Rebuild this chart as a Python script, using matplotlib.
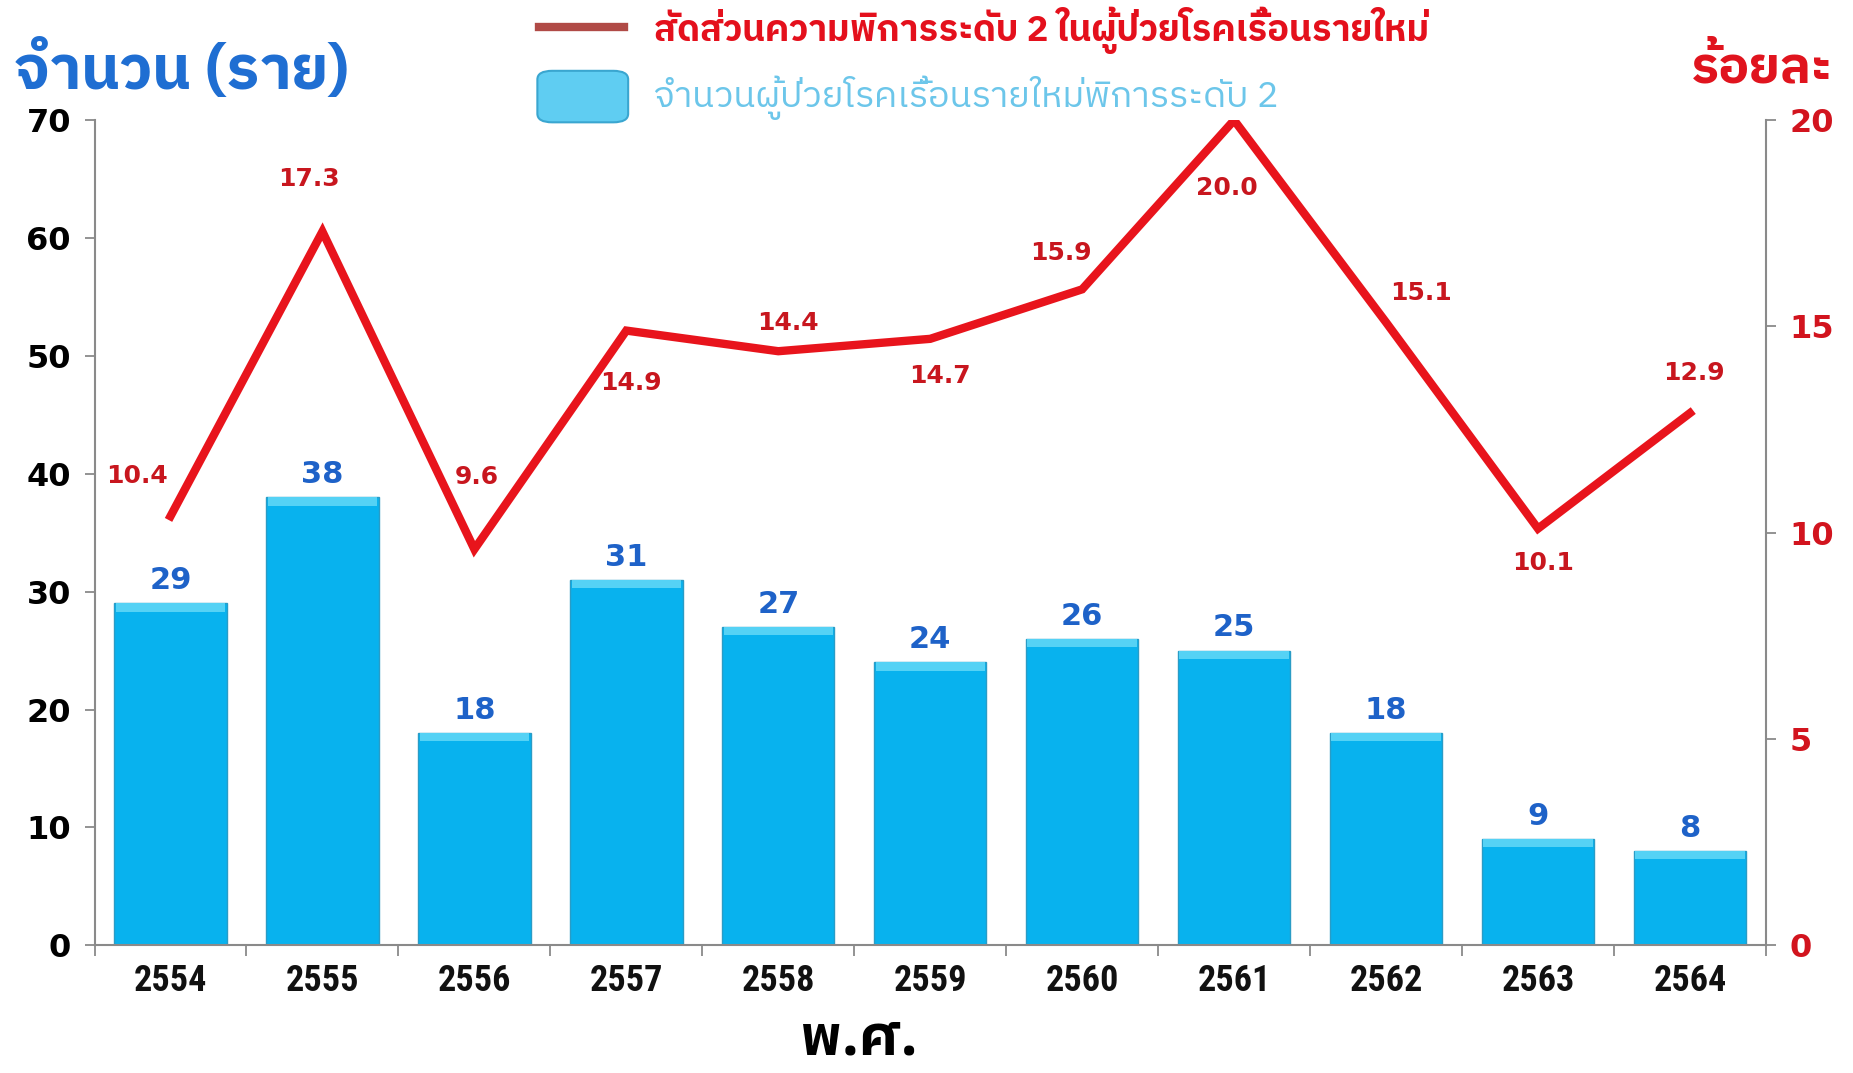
import matplotlib
matplotlib.use('Agg')
import matplotlib.pyplot as plt
from matplotlib import font_manager as fm
from matplotlib.ft2font import FT2Font
from matplotlib.patches import FancyBboxPatch
from matplotlib.lines import Line2D
import numpy as np

# ---------------- data ----------------
years = ['2554', '2555', '2556', '2557', '2558', '2559', '2560', '2561', '2562', '2563', '2564']
counts = [29, 38, 18, 31, 27, 24, 26, 25, 18, 9, 8]
percent = [10.4, 17.3, 9.6, 14.9, 14.4, 14.7, 15.9, 20.0, 15.1, 10.1, 12.9]
left_ticks = [0, 10, 20, 30, 40, 50, 60, 70]
right_ticks = [0, 5, 10, 15, 20]

title_left = 'จำนวน (ราย)'
title_right = 'ร้อยละ'
xlabel = 'พ.ศ.'
legend_line = 'สัดส่วนความพิการระดับ 2 ในผู้ป่วยโรคเรื้อนรายใหม่'
legend_bar = 'จำนวนผู้ป่วยโรคเรื้อนรายใหม่พิการระดับ 2'

# label offsets for percentage labels (points), style only
pct_offsets = [(-24, 29), (-10, 38), (2, 52), (3, -38), (7, 20), (7, -27),
               (-15, 26), (-5, -49), (25, 21), (4, -25), (3, 29)]


# ---------------- fonts ----------------
def find_thai():
    best = None
    for f in fm.fontManager.ttflist:
        try:
            cmap = FT2Font(f.fname).get_charmap()
        except Exception:
            continue
        if 0x0E01 in cmap and 0x0E33 in cmap and 0x0E48 in cmap:
            w = f.weight if isinstance(f.weight, int) else (700 if 'bold' in str(f.weight).lower() else 400)
            score = (1 if 'Thai' in f.name else 0, 1 if w >= 600 else 0)
            if best is None or score > best[0]:
                best = (score, f.name)
    return best[1] if best else 'DejaVu Sans'


def find_condensed_bold():
    cands = []
    for f in fm.fontManager.ttflist:
        fn = f.fname.lower()
        nm = f.name.lower()
        narrow = ('narrow' in nm or 'condensed' in nm or 'narrow' in fn or 'condensed' in fn
                  or str(f.stretch).lower() in ('condensed', 'semi-condensed', 'extra-condensed'))
        w = f.weight if isinstance(f.weight, int) else (700 if 'bold' in str(f.weight).lower() else 400)
        bold = w >= 600 or 'bold' in fn
        italic = 'italic' in fn or 'oblique' in fn or f.style != 'normal'
        if narrow and bold and not italic:
            pri = 0
            if 'liberation' in fn:
                pri = 3
            elif 'roboto' in fn:
                pri = 2
            elif 'dejavu' in fn:
                pri = 1
            cands.append((pri, f.fname))
    if cands:
        cands.sort(reverse=True)
        return fm.FontProperties(fname=cands[0][1])
    return fm.FontProperties(family='DejaVu Sans', weight='bold')


thai = find_thai()
TH = [thai, 'DejaVu Sans']
NUM = ['DejaVu Sans']
xt_prop = find_condensed_bold()
xt_prop.set_size(26)

# ---------------- figure ----------------
fig = plt.figure(figsize=(18.53, 10.73), dpi=100)
ax = fig.add_axes([0.051, 0.119, 0.902, 0.769])
ax2 = ax.twinx()

x = np.arange(len(years))
bar_color = '#08B2EE'
ax.bar(x, counts, width=0.74, color=bar_color, edgecolor='#2a9cc6', linewidth=1.0, zorder=2)
cap = 0.7
ax.bar(x, [cap] * len(x), bottom=np.array(counts) - cap, width=0.72, color='#55D2F5',
       linewidth=0, zorder=3)

for xi, c in zip(x, counts):
    ax.annotate(str(c), (xi, c), xytext=(0, 6), textcoords='offset points',
                ha='center', va='bottom', fontsize=22, fontweight='bold',
                color='#1E62C8', family=NUM, zorder=5)

ax.set_xlim(-0.5, len(years) - 0.5)
ax.set_ylim(0, 70)
ax.set_yticks(left_ticks)
ax.set_yticklabels([str(v) for v in left_ticks], fontsize=23, fontweight='bold',
                   color='black', family=NUM)
ax.set_xticks(x)
ax.set_xticklabels(years, color='#111111', fontproperties=xt_prop)
ax.set_xticks(np.arange(-0.5, len(years)), minor=True)
ax.tick_params(axis='x', which='major', length=0, pad=13)
ax.tick_params(axis='x', which='minor', length=8, color='#808080', width=1.2)
ax.tick_params(axis='y', length=7, color='#808080', width=1.2, pad=10)

for s in ['top', 'right']:
    ax.spines[s].set_visible(False)
for s in ['left', 'bottom']:
    ax.spines[s].set_color('#8a8a8a')
    ax.spines[s].set_linewidth(1.5)

ax2.plot(x, percent, color='#E8141C', linewidth=6, solid_joinstyle='miter', zorder=4)
ax2.set_ylim(0, 20)
ax2.set_yticks(right_ticks)
ax2.set_yticklabels([str(v) for v in right_ticks], fontsize=23, fontweight='bold',
                    color='#D2141E', family=NUM)
ax2.tick_params(axis='y', length=7, color='#808080', width=1.2, pad=10)
for s in ['top', 'left', 'bottom']:
    ax2.spines[s].set_visible(False)
ax2.spines['right'].set_color('#8a8a8a')
ax2.spines['right'].set_linewidth(1.5)

for xi, p, off in zip(x, percent, pct_offsets):
    ax2.annotate(f'{p:.1f}', (xi, p), xytext=off, textcoords='offset points',
                 ha='center', va='center', fontsize=18, fontweight='bold',
                 color='#C8161E', family=NUM, zorder=6)

# titles
fig.text(0.008, 0.934, title_left, ha='left', va='center', fontsize=44, fontweight='bold',
         color='#1F6ED2', family=TH)
fig.text(0.989, 0.937, title_right, ha='right', va='center', fontsize=37, fontweight='bold',
         color='#E0141E', family=TH)
fig.text(0.464, 0.032, xlabel, ha='center', va='center', fontsize=41, fontweight='bold',
         color='black', family=TH)

# legend (manual)
fig.add_artist(Line2D([0.291, 0.337], [0.975, 0.975], transform=fig.transFigure,
                      color='#B04A46', linewidth=6))
fig.add_artist(FancyBboxPatch((0.293, 0.889), 0.043, 0.042,
                              boxstyle='round,pad=0.003,rounding_size=0.008',
                              transform=fig.transFigure, facecolor='#5FCDF2',
                              edgecolor='#3AA6D0', linewidth=1.5))
fig.text(0.353, 0.972, legend_line, ha='left', va='center', fontsize=26, fontweight='bold',
         color='#E4101C', family=TH)
fig.text(0.353, 0.909, legend_bar, ha='left', va='center', fontsize=26,
         color='#6CC6EA', family=TH)

fig.savefig('out.png', dpi=100, facecolor='white')
